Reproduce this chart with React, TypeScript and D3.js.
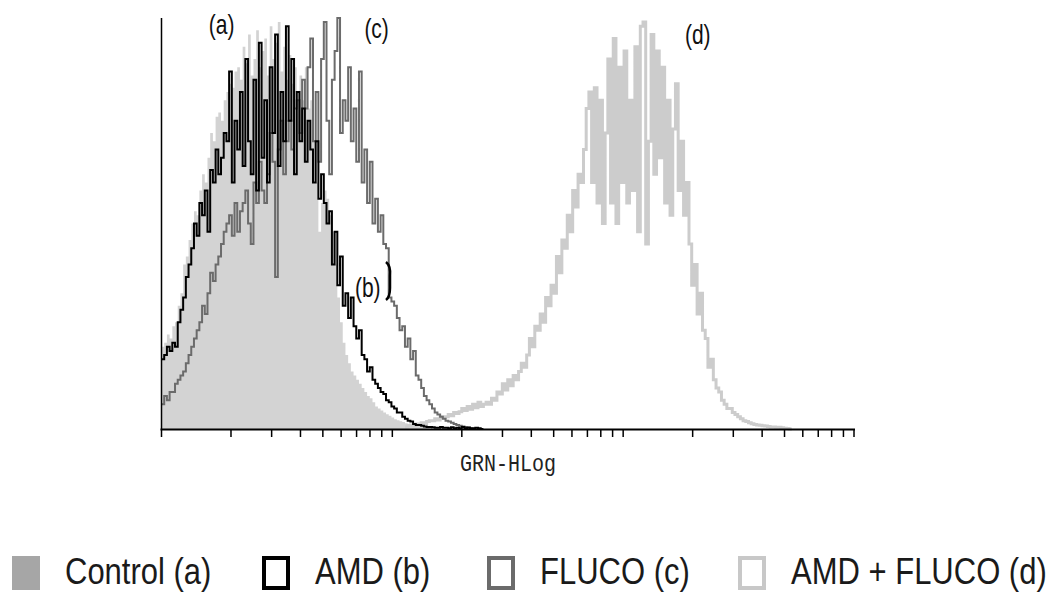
import React from "react";
import * as d3 from "d3";

// ---- data (counts per log channel, 256 channels over 3 decades) ----
const CHANNELS = 256;
const controlStart = 0;
const controlCounts = [
  20, 21, 23, 22, 25, 26, 30, 33, 40, 42,
  46, 50, 53, 52, 58, 62, 60, 66, 72, 70,
  76, 77, 75, 80, 82, 84, 83, 87, 88, 85,
  93, 89, 96, 86, 90, 97, 88, 92, 95, 86,
  98, 90, 94, 99, 87, 93, 85, 91, 84, 88,
  82, 86, 80, 88, 78, 80, 70, 60, 48, 55,
  58, 56, 52, 48, 40, 32, 26, 21, 18, 16,
  14, 13, 12, 11, 10, 9, 8, 7.5, 6.5, 5.5,
  5, 4.5, 4, 3.6, 3.2, 2.8, 2.4, 2.1, 1.9, 1.7,
  1.4, 1.2, 1, 0.9, 0.8, 0.7, 0.6, 0.5, 0.4, 0.2, 0,
];
const amdStart = 0;
const amdCounts = [
  17, 18, 20, 19, 21, 20, 26, 29, 32, 37,
  40, 44, 50, 47, 55, 52, 58, 48, 63, 60,
  68, 62, 66, 72, 70, 87, 60, 75, 68, 82,
  64, 90, 70, 62, 85, 58, 94, 66, 80, 60,
  88, 72, 96, 64, 82, 70, 98, 75, 90, 62,
  82, 70, 78, 65, 75, 68, 60, 70, 56, 62,
  55, 50, 53, 40, 48, 35, 42, 30, 33, 27,
  32, 25, 22, 24, 18, 17, 14, 15, 12, 11,
  10, 9, 8.5, 7, 6.5, 5.5, 5, 4, 4, 3,
  2.5, 2, 1.8, 1.2, 1, 1, 0.8, 0.6, 0.5, 0.5,
  0.4, 0.3, 0.3, 0.5, 0.3, 0.3, 0.2, 0.4, 0.2, 0.3,
  0.2, 0.5, 0.2, 0.3, 0.2, 0.2, 0.3, 0.2, 0,
];
const flucoStart = 0;
const flucoCounts = [
  6, 8, 7, 9, 9, 11, 12, 13, 14, 16,
  18, 20, 22, 24, 26, 30, 28, 33, 38, 36,
  40, 42, 45, 48, 50, 52, 47, 55, 48, 53,
  55, 58, 50, 45, 60, 55, 65, 58, 55, 62,
  72, 65, 37, 68, 75, 62, 70, 75, 68, 78,
  80, 72, 85, 78, 88, 95, 70, 82, 65, 90,
  99, 75, 62, 85, 92, 100, 72, 80, 75, 88,
  70, 78, 65, 87, 60, 68, 55, 65, 50, 56,
  48, 52, 45, 44, 32, 31, 30, 27, 24, 25,
  20, 22, 17, 19, 13, 12, 10, 8, 7, 6,
  5, 4, 3.5, 3, 2.5, 2, 1.8, 1.5, 1.2, 1,
  0.8, 0.6, 0.5, 0.4, 0.2, 0,
];
const comboStart = 90;
const comboCounts = [
  0.5, 0.8, 1, 1, 1.2, 1.2, 1.5, 1.3, 1.8, 2,
  2, 2.5, 2.2, 3, 2.8, 3, 3.5, 3.2, 4, 3.8,
  4.2, 5, 4.5, 5.5, 4.8, 6, 5.2, 6.5, 5.5, 6,
  6.5, 6, 7.5, 7, 9, 8.5, 11, 9.5, 12, 10.5,
  13, 12, 14, 16, 15, 18, 22, 20, 25, 24,
  28, 26, 32, 30, 35, 33, 42, 38, 46, 44,
  52, 48, 58, 54, 62, 60, 68, 78, 82, 60,
  83, 55, 80, 50, 72, 90, 55, 95, 50, 88,
  60, 92, 55, 80, 58, 93, 48, 98, 99, 45,
  70, 96, 62, 92, 66, 88, 55, 80, 52, 73,
  84, 58, 70, 52, 60, 45, 35, 40, 28, 33,
  24, 22, 15, 17, 12, 10, 9, 7, 6, 5,
  5, 4, 3.5, 3, 2.5, 2, 1.8, 1.5, 1.3, 1.1,
  1, 0.9, 0.8, 0.7, 0.6, 0.5, 0.5, 0.4, 0.4, 0.3, 0.2, 0.1, 0,
];
const xTicks = [2, 3, 4, 5, 6, 7, 8, 9, 10, 20, 30, 40, 50, 60, 70, 80, 90, 100, 200, 300, 400, 500, 600, 700, 800, 900, 1000];
const axisLabel = "GRN-HLog";
const curveLabels = [
  { text: "(a)", ch: 17.5, v: 100 },
  { text: "(c)", ch: 75, v: 99 },
  { text: "(b)", ch: 71.5, v: 36 },
  { text: "(d)", ch: 193.5, v: 97.5 },
];
const legendItems = [
  { label: "Control (a)", kind: "fill", color: "#a6a6a6" },
  { label: "AMD (b)", kind: "line", color: "#000000" },
  { label: "FLUCO (c)", kind: "line", color: "#6b6b6b" },
  { label: "AMD + FLUCO (d)", kind: "line", color: "#c8c8c8" },
];
const legendX = [12, 262, 487, 738];

const W = 1063;
const H = 593;

const xLog = d3.scaleLog().domain([1, 1000]).range([161.5, 854]);
const chX = (k: number) => xLog(Math.pow(10, (3 * k) / CHANNELS));
const yS = d3.scaleLinear().domain([0, 100]).range([429, 18]);

function pts(start: number, vals: number[]): [number, number][] {
  const p: [number, number][] = vals.map((v, i) => [start + i, v]);
  p.push([start + vals.length, vals[vals.length - 1]]);
  return p;
}

const line = d3
  .line<[number, number]>()
  .x((d) => chX(d[0]))
  .y((d) => yS(d[1]))
  .curve(d3.curveStepAfter);
const area = d3
  .area<[number, number]>()
  .x((d) => chX(d[0]))
  .y0(yS(0))
  .y1((d) => yS(d[1]))
  .curve(d3.curveStepAfter);

export default function App() {
  const sans = "'Liberation Sans', Arial, sans-serif";
  return (
    <svg
      width={W}
      height={H}
      style={{ position: "absolute", left: 0, top: 0, background: "#fff" }}
    >
      <rect x={0} y={0} width={W} height={H} fill="#fff" />
      {/* histograms */}
      <path d={area(pts(controlStart, controlCounts)) || ""} fill="#d3d3d3" />
      <path d={line(pts(comboStart, comboCounts)) || ""} fill="none" stroke="#cccccc" strokeWidth={3} />
      <path d={line(pts(flucoStart, flucoCounts)) || ""} fill="none" stroke="#6b6b6b" strokeWidth={2} />
      <path d={line(pts(amdStart, amdCounts)) || ""} fill="none" stroke="#000" strokeWidth={2} />
      {/* bracket near (b) */}
      <path d="M386,262 Q391,266 390,276 L390,288 Q390,297 386,300" fill="none" stroke="#000" strokeWidth={2.5} />
      {/* axes */}
      <line x1={161.5} x2={161.5} y1={18} y2={429} stroke="#000" strokeWidth={1.5} />
      <line x1={160.5} x2={855} y1={429.5} y2={429.5} stroke="#000" strokeWidth={2} />
      {xTicks.map((t) => (
        <line key={t} x1={xLog(t)} x2={xLog(t)} y1={429} y2={437} stroke="#000" strokeWidth={1.5} />
      ))}
      <line x1={161.5} x2={161.5} y1={429} y2={437} stroke="#000" strokeWidth={1.5} />
      <text
        transform="translate(508,471) scale(1,1.2)"
        textAnchor="middle"
        fontFamily="'Liberation Mono', 'DejaVu Sans Mono', monospace"
        fontSize={20}
        fill="#222"
      >
        {axisLabel}
      </text>
      {/* curve labels */}
      {curveLabels.map((l) => (
        <text
          key={l.text}
          transform={`translate(${chX(l.ch)},${yS(l.v) + 16}) scale(1,1.3)`}
          fontFamily={sans}
          fontSize={21}
          fill="#111"
        >
          {l.text}
        </text>
      ))}
      {/* legend */}
      {legendItems.map((it, i) => (
        <g key={it.label}>
          {it.kind === "fill" ? (
            <rect x={legendX[i]} y={556} width={28} height={34} fill={it.color} />
          ) : (
            <rect x={legendX[i] + 2} y={558} width={24} height={30} fill="#fff" stroke={it.color} strokeWidth={4} />
          )}
          <text
            transform={`translate(${legendX[i] + 53},${584}) scale(1,1.2)`}
            fontFamily={sans}
            fontSize={31}
            fill="#1a1a1a"
          >
            {it.label}
          </text>
        </g>
      ))}
    </svg>
  );
}
